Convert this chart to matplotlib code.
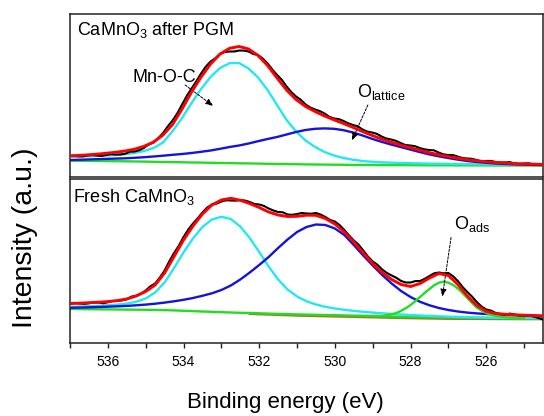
import matplotlib
matplotlib.use("Agg")
import matplotlib.pyplot as plt

plt.rcParams['font.family'] = ['Liberation Sans', 'DejaVu Sans']
plt.rcParams['mathtext.fontset'] = 'custom'
plt.rcParams['mathtext.rm'] = 'Liberation Sans'
plt.rcParams['mathtext.it'] = 'Liberation Sans:italic'
plt.rcParams['mathtext.bf'] = 'Liberation Sans:bold'

# ---------------- data ----------------
# fit / component grid (binding energy, eV)
energy = [537.0, 536.75, 536.5, 536.25, 536.0, 535.75, 535.5, 535.25, 535.0, 534.75,
          534.5, 534.25, 534.0, 533.75, 533.5, 533.25, 533.0, 532.75, 532.5, 532.25,
          532.0, 531.75, 531.5, 531.25, 531.0, 530.75, 530.5, 530.25, 530.0, 529.75,
          529.5, 529.25, 529.0, 528.75, 528.5, 528.25, 528.0, 527.75, 527.5, 527.25,
          527.0, 526.75, 526.5, 526.25, 526.0, 525.75, 525.5, 525.25, 525.0, 524.75,
          524.5]

# measured spectra grid
raw_energy = [537.0, 536.875, 536.75, 536.625, 536.5, 536.375, 536.25, 536.125, 536.0,
              535.875, 535.75, 535.625, 535.5, 535.375, 535.25, 535.125, 535.0,
              534.875, 534.75, 534.625, 534.5, 534.375, 534.25, 534.125, 534.0,
              533.875, 533.75, 533.625, 533.5, 533.375, 533.25, 533.125, 533.0,
              532.875, 532.75, 532.625, 532.5, 532.375, 532.25, 532.125, 532.0,
              531.875, 531.75, 531.625, 531.5, 531.375, 531.25, 531.125, 531.0,
              530.875, 530.75, 530.625, 530.5, 530.375, 530.25, 530.125, 530.0,
              529.875, 529.75, 529.625, 529.5, 529.375, 529.25, 529.125, 529.0,
              528.875, 528.75, 528.625, 528.5, 528.375, 528.25, 528.125, 528.0,
              527.875, 527.75, 527.625, 527.5, 527.375, 527.25, 527.125, 527.0,
              526.875, 526.75, 526.625, 526.5, 526.375, 526.25, 526.125, 526.0,
              525.875, 525.75, 525.625, 525.5, 525.375, 525.25, 525.125, 525.0,
              524.875, 524.75, 524.625, 524.5]

# CaMnO3 after PGM (top panel)
pgm_raw = [20.5, 21.3, 20.7, 20.6, 21.4, 21.9, 21.5, 21.0, 22.0, 22.8,
           22.4, 22.5, 23.2, 25.3, 25.5, 26.8, 29.2, 32.6, 34.5, 38.8,
           44.0, 50.7, 56.5, 63.7, 72.5, 81.1, 88.5, 95.7, 103.5, 110.4,
           115.5, 118.7, 123.0, 125.0, 125.5, 125.5, 126.5, 126.4, 125.5, 123.0,
           122.0, 118.4, 113.5, 107.5, 102.0, 97.2, 90.5, 84.9, 80.5, 77.2,
           72.5, 69.5, 67.5, 65.9, 63.5, 60.2, 58.5, 57.9, 56.0, 53.7,
           52.0, 50.7, 47.5, 45.4, 44.5, 43.2, 40.5, 38.5, 37.5, 36.2,
           34.0, 32.0, 31.5, 30.9, 29.0, 27.7, 27.0, 26.7, 24.5, 22.7,
           22.0, 22.0, 20.5, 19.0, 18.5, 18.2, 17.0, 15.7, 16.0, 16.1,
           15.0, 14.5, 14.5, 14.9, 13.5, 12.9, 13.5, 13.7, 12.5, 12.3,
           13.0]
pgm_fit = [21.0, 21.5, 22.1, 22.8, 23.7, 24.7, 26.0, 27.8, 30.7, 35.0,
           42.0, 52.5, 68.0, 85.0, 100.0, 113.0, 123.0, 128.7, 130.5, 128.0,
           121.5, 111.5, 99.0, 87.0, 77.5, 70.5, 65.5, 61.0, 57.2, 53.5,
           49.6, 45.5, 41.6, 38.0, 34.8, 32.0, 29.4, 26.8, 24.4, 22.3,
           20.5, 18.9, 17.4, 16.2, 15.3, 14.6, 14.0, 13.5, 13.1, 12.8,
           12.5]
pgm_mnoc = [20.2, 20.4, 20.7, 21.0, 21.5, 22.0, 22.8, 24.0, 26.0, 29.0,
            34.5, 46.0, 59.0, 74.0, 88.0, 100.0, 109.0, 113.8, 114.0, 108.5,
            99.5, 87.0, 72.0, 57.0, 45.5, 36.5, 30.0, 25.0, 21.5, 19.0,
            17.2, 16.0, 15.2, 14.7, 14.3, 14.0, 13.8, 13.6, 13.4, 13.3,
            13.1, 13.0, 12.8, 12.7, 12.6, 12.5, 12.4, 12.3, 12.2, 12.1,
            12.0]
pgm_olat = [16.9, 17.2, 17.5, 17.8, 18.1, 18.4, 18.7, 19.2, 19.8, 20.5,
            21.3, 22.2, 23.0, 24.0, 25.2, 26.5, 28.2, 30.0, 31.5, 33.5,
            35.8, 38.0, 40.0, 42.5, 45.0, 47.0, 48.2, 48.6, 48.2, 46.8,
            44.5, 41.5, 38.2, 35.2, 32.5, 30.0, 27.5, 25.0, 22.7, 20.7,
            19.0, 17.4, 16.0, 15.0, 14.2, 13.5, 13.0, 12.6, 12.3, 12.1,
            11.9]
pgm_bg = [16.3, 16.2, 16.1, 16.0, 15.9, 15.8, 15.7, 15.5, 15.4, 15.2,
          15.0, 14.9, 14.7, 14.5, 14.4, 14.2, 14.0, 13.9, 13.7, 13.6,
          13.4, 13.2, 13.0, 12.9, 12.8, 12.6, 12.5, 12.4, 12.3, 12.2,
          12.1, 12.1, 12.0, 12.0, 11.9, 11.9, 11.8, 11.8, 11.7, 11.7,
          11.7, 11.6, 11.6, 11.6, 11.6, 11.5, 11.5, 11.5, 11.5, 11.5,
          11.5]

# Fresh CaMnO3 (bottom panel)
fresh_raw = [39.0, 40.0, 39.5, 39.1, 39.7, 40.5, 40.5, 39.8, 40.7, 42.0,
             42.0, 42.6, 43.7, 46.4, 47.2, 49.3, 52.5, 56.7, 59.5, 65.5,
             72.5, 81.7, 90.0, 97.2, 106.0, 113.4, 119.5, 124.7, 130.5, 135.4,
             138.5, 139.4, 141.5, 142.7, 142.5, 142.3, 143.0, 142.4, 141.0, 139.0,
             138.5, 137.1, 134.5, 132.5, 131.0, 130.7, 128.5, 128.2, 129.0, 130.0,
             129.5, 129.3, 130.0, 128.4, 126.0, 123.0, 121.5, 117.9, 113.0, 107.5,
             102.5, 98.4, 92.5, 86.4, 81.5, 78.2, 73.5, 70.0, 67.5, 65.2,
             62.0, 60.5, 60.5, 61.9, 62.0, 64.2, 67.0, 69.7, 70.5, 69.7,
             70.0, 66.7, 62.0, 56.0, 51.0, 46.4, 41.0, 36.5, 33.5, 32.4,
             30.0, 29.0, 28.5, 29.4, 28.5, 27.5, 27.7, 27.8, 26.5, 25.0,
             23.5]
fresh_fit = [39.5, 39.8, 40.3, 40.8, 41.4, 42.4, 44.0, 47.0, 51.5, 58.0,
             70.0, 86.5, 103.0, 117.0, 129.0, 138.0, 143.0, 144.7, 142.7, 139.5,
             135.5, 131.0, 128.0, 126.5, 126.7, 127.8, 127.7, 124.5, 119.0, 111.0,
             101.0, 90.0, 79.5, 70.5, 63.5, 58.5, 56.5, 59.5, 65.0, 69.5,
             67.5, 58.5, 47.0, 37.5, 31.7, 29.5, 28.7, 28.2, 27.8, 27.5,
             27.2]
fresh_mnoc = [36.2, 36.5, 36.8, 37.2, 37.7, 38.4, 39.4, 41.2, 44.5, 50.5,
              60.5, 75.0, 90.5, 104.5, 116.0, 123.5, 126.2, 124.0, 116.5, 105.0,
              91.0, 76.5, 63.5, 53.5, 46.5, 41.7, 38.5, 36.2, 34.5, 33.2,
              32.1, 31.2, 30.4, 29.7, 29.1, 28.5, 28.0, 27.5, 27.1, 26.7,
              26.4, 26.1, 25.8, 25.6, 25.4, 25.2, 25.1, 25.0, 24.9, 24.8,
              24.7]
fresh_olat = [35.2, 35.4, 35.7, 36.0, 36.3, 36.7, 37.1, 37.7, 38.4, 39.3,
              40.4, 41.7, 43.2, 45.0, 47.2, 49.7, 53.0, 57.5, 63.5, 70.5,
              78.0, 86.0, 95.0, 103.5, 111.0, 116.0, 118.5, 118.0, 114.5, 108.0,
              98.0, 87.5, 77.5, 68.0, 59.5, 52.0, 46.0, 41.2, 37.7, 35.0,
              33.0, 31.5, 30.4, 29.6, 29.0, 28.5, 28.1, 27.7, 27.3, 27.0,
              26.7]
fresh_bg = [34.0, 33.9, 33.8, 33.7, 33.6, 33.5, 33.4, 33.3, 33.2, 33.1,
            32.9, 32.6, 32.2, 31.9, 31.5, 31.2, 30.8, 30.5, 30.2, 30.0,
            29.7, 29.4, 29.1, 28.9, 28.6, 28.4, 28.2, 28.0, 27.8, 27.6,
            27.4, 27.2, 27.0, 26.7, 26.5, 26.3, 26.1, 26.0, 25.8, 25.7,
            25.5, 25.4, 25.3, 25.2, 25.1, 25.0, 24.9, 24.8, 24.8, 24.7,
            24.7]
ads_energy = [529.0, 528.75, 528.5, 528.375, 528.25, 528.125, 528.0, 527.875, 527.75,
              527.625, 527.5, 527.375, 527.25, 527.125, 527.0, 526.875, 526.75,
              526.625, 526.5, 526.375, 526.25, 526.125, 526.0, 525.875, 525.75,
              525.5, 525.25, 525.0]
fresh_oads = [27.0, 27.0, 28.7, 30.0, 32.2, 34.8, 38.0, 41.8, 46.0,
              50.2, 54.0, 57.8, 60.3, 61.3, 60.3, 58.0, 54.5,
              50.0, 45.0, 40.0, 35.5, 32.5, 30.0, 28.3, 27.2,
              25.8, 25.0, 24.8]
bg2_energy = [532.25, 531.0, 529.5, 528.25, 527.0, 525.5, 524.5]
fresh_bg2 = [29.0, 27.3, 26.0, 24.9, 24.1, 23.8, 23.7]

major_ticks = [536, 534, 532, 530, 528, 526]
minor_ticks = [537, 535, 533, 531, 529, 527, 525]

# ---------------- style ----------------
C_RAW = '#000000'
C_FIT = '#ff0000'
C_CYAN = '#22e8f5'
C_BLUE = '#1414d8'
C_GREEN = '#22dd22'
C_OLIVE = '#9c7a1e'

fig = plt.figure(figsize=(5.44, 4.16), dpi=100)
ax_top = fig.add_axes([70 / 544, 1 - 177 / 416, 473 / 544, 163 / 416])
ax_bot = fig.add_axes([70 / 544, 1 - 343 / 416, 473 / 544, 164 / 416])


def draw(ax, raw, fit, comps, bg):
    ax.plot(energy, bg, color=C_GREEN, lw=1.7, zorder=2)
    for e, vals, col in comps:
        ax.plot(e, vals, color=col, lw=1.7, zorder=3)
    ax.plot(raw_energy, raw, color=C_RAW, lw=1.5, zorder=4)
    ax.plot(energy, fit, color=C_FIT, lw=2.1, zorder=5)


draw(ax_top, pgm_raw, pgm_fit,
     [(energy, pgm_mnoc, C_CYAN), (energy, pgm_olat, C_BLUE)], pgm_bg)
ax_bot.plot(bg2_energy, fresh_bg2, color=C_OLIVE, lw=1.5, zorder=1)
draw(ax_bot, fresh_raw, fresh_fit,
     [(energy, fresh_mnoc, C_CYAN), (energy, fresh_olat, C_BLUE),
      (ads_energy, fresh_oads, C_GREEN)], fresh_bg)

for ax, ytop in ((ax_top, 163), (ax_bot, 164)):
    ax.set_xlim(536.95, 524.5)
    ax.set_ylim(0, ytop)
    ax.set_yticks([])
    for sp in ax.spines.values():
        sp.set_linewidth(1.1)
        sp.set_color('#222222')

ax_top.set_xticks([])
ax_top.tick_params(axis='x', which='both', bottom=False, labelbottom=False)

ax_bot.set_xticks(major_ticks)
ax_bot.set_xticks(minor_ticks, minor=True)
ax_bot.tick_params(axis='x', which='both', direction='out', length=3.6,
                   width=1.0, color='#222222', labelsize=10, pad=5)

# panel labels
ax_top.text(0.014, 0.871, r'$\mathrm{CaMnO_3}$ after PGM', transform=ax_top.transAxes,
            fontsize=13, ha='left', va='baseline')
ax_bot.text(0.007, 0.861, r'Fresh $\mathrm{CaMnO_3}$', transform=ax_bot.transAxes,
            fontsize=13, ha='left', va='baseline')

arrow_kw = dict(arrowstyle='-|>,head_length=0.45,head_width=0.18', color='black',
                lw=0.7, linestyle=(0, (2.5, 1.5)), shrinkA=0, shrinkB=0)

ax_top.text(534.47, 99.5, 'Mn-O-C', fontsize=13, ha='center', va='center')
ax_top.annotate('', xy=(533.18, 71), xytext=(533.92, 92), arrowprops=arrow_kw)

ax_top.text(529.39, 79.7, r'$\mathrm{O_{lattice}}$', fontsize=13, ha='left', va='baseline')
ax_top.annotate('', xy=(529.53, 36.5), xytext=(529.11, 72), arrowprops=arrow_kw)

ax_bot.text(526.85, 113.7, r'$\mathrm{O_{ads}}$', fontsize=13, ha='left', va='baseline')
ax_bot.annotate('', xy=(527.16, 46.3), xytext=(526.93, 105.5), arrowprops=arrow_kw)

fig.text(285 / 544, 0.0185, 'Binding energy (eV)', fontsize=16, ha='center', va='baseline')
fig.text(25 / 544, 0.428, 'Intensity (a.u.)', fontsize=20.5, rotation=90,
         ha='center', va='center')

fig.savefig('out.png', dpi=100)
